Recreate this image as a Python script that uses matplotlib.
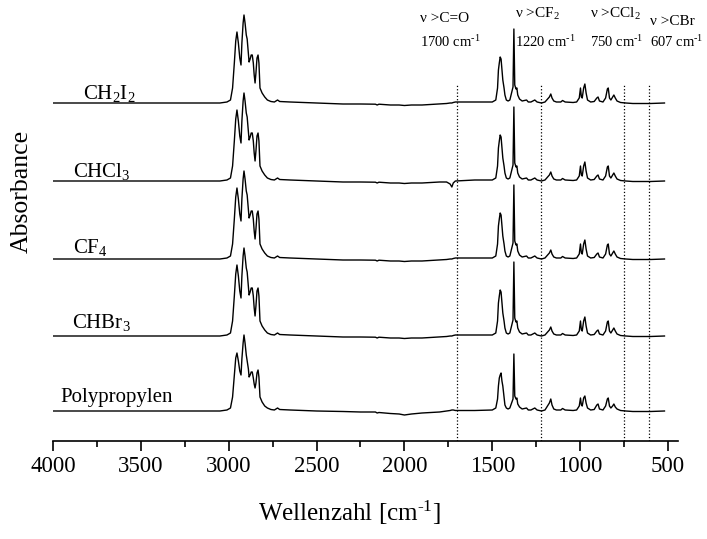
import numpy as np
import matplotlib
matplotlib.use('Agg')
import matplotlib.pyplot as plt
from matplotlib.ticker import MultipleLocator

plt.rcParams['font.family'] = ['Liberation Serif', 'DejaVu Serif']
plt.rcParams['mathtext.fontset'] = 'custom'
plt.rcParams['mathtext.rm'] = 'Liberation Serif'
plt.rcParams['mathtext.it'] = 'Liberation Serif:italic'
plt.rcParams['mathtext.bf'] = 'Liberation Serif:bold'

# Wellenzahl [cm-1]
wn = [4000, 3800, 3600, 3400, 3200, 3050, 3010, 2990, 2978, 2968,
      2960, 2953, 2945, 2937, 2930, 2925, 2918, 2913, 2907, 2900,
      2895, 2888, 2884, 2878, 2872, 2866, 2860, 2855, 2850, 2845,
      2839, 2833, 2828, 2822, 2810, 2795, 2780, 2760, 2740, 2722,
      2710, 2650, 2500, 2350, 2250, 2165, 2155, 2145, 2080, 2030,
      2000, 1960, 1900, 1800, 1760, 1740, 1730, 1722, 1710, 1600,
      1500, 1480, 1470, 1465, 1460, 1455, 1450, 1445, 1440, 1433,
      1428, 1420, 1410, 1400, 1390, 1382, 1377, 1372, 1365, 1360,
      1355, 1345, 1330, 1305, 1295, 1280, 1258, 1245, 1220, 1200,
      1175, 1167, 1160, 1150, 1135, 1110, 1100, 1085, 1040, 1020,
      1005, 998, 993, 988, 980, 973, 966, 958, 940, 920,
      905, 898, 890, 870, 855, 845, 840, 833, 825, 815,
      808, 800, 790, 770, 740, 700, 600, 520]

# behandelte Folien (CH2I2, CF4, CHBr3)
treated = [0, 0, 0, 0, 0, 0, .01, .03, .15, .40,
           .62, .71, .60, .45, .38, .60, .80, .88, .80, .68,
           .64, .50, .41, .44, .48, .48, .40, .28, .20, .30,
           .45, .48, .40, .15, .10, .06, .03, .015, .01, .03,
           .015, .01, 0, -.01, -.01, -.012, -.02, -.012, -.02, -.02,
           -.025, -.02, -.02, -.01, -.005, 0, 0, .005, .01, .01,
           .01, .03, .15, .33, .40, .46, .44, .33, .23, .15,
           .08, .03, .02, .03, .10, .16, .74, .18, .14, .15,
           .08, .04, .02, .03, .01, .01, .03, .01, 0, .01,
           .06, .09, .05, .02, .01, .01, .025, .01, .005, .01,
           .05, .15, .06, .05, .15, .19, .10, .03, .01, .015,
           .05, .06, .02, .01, .05, .14, .15, .05, .03, .06,
           .08, .05, .02, .005, 0, -.005, -.005, 0]

chcl3 = [0, 0, 0, 0, 0, 0, .01, .03, .15, .40,
         .62, .71, .60, .45, .38, .60, .80, .88, .80, .68,
         .64, .50, .41, .44, .48, .48, .40, .28, .20, .30,
         .45, .48, .40, .15, .10, .06, .03, .015, .01, .03,
         .015, .01, 0, -.01, -.01, -.012, -.02, -.012, -.02, -.02,
         -.025, -.02, -.02, -.01, -.01, -.03, -.06, -.02, 0, .01,
         .01, .03, .15, .33, .40, .46, .44, .33, .23, .15,
         .08, .03, .02, .03, .10, .16, .74, .18, .14, .15,
         .08, .04, .02, .03, .01, .01, .03, .01, 0, .01,
         .06, .09, .05, .02, .01, .01, .025, .01, .005, .01,
         .05, .15, .06, .05, .15, .19, .10, .03, .01, .015,
         .05, .06, .02, .01, .05, .14, .15, .05, .03, .06,
         .08, .05, .02, .005, 0, -.005, -.005, 0]

pp = [0, 0, 0, 0, 0, 0, .01, .03, .14, .36,
      .53, .58, .50, .40, .36, .52, .68, .76, .68, .56,
      .50, .42, .34, .36, .39, .39, .33, .27, .23, .28,
      .38, .41, .34, .14, .09, .05, .03, .015, .01, .03,
      .015, .01, 0, -.005, -.01, -.01, -.02, -.015, -.025, -.03,
      -.04, -.03, -.02, -.01, 0, .005, .01, .01, .005, .005,
      .01, .03, .12, .25, .33, .36, .38, .30, .25, .14,
      .06, .03, .02, .03, .08, .12, .57, .15, .12, .13,
      .07, .04, .02, .03, .01, .01, .03, .01, 0, .01,
      .08, .12, .06, .02, .01, .01, .025, .01, .005, .01,
      .05, .13, .06, .05, .13, .15, .08, .03, .01, .015,
      .06, .07, .02, .01, .05, .12, .13, .05, .03, .05,
      .07, .04, .02, .005, 0, -.005, -.005, 0]

samples = [r'CH$_{\rm 2}$I$_{\rm 2}$', r'CHCl$_{\rm 3}$', r'CF$_{\rm 4}$',
           r'CHBr$_{\rm 3}$', 'Polypropylen']
spectra = [treated, chcl3, treated, treated, pp]
offsets = [3.08, 2.30, 1.52, 0.75, 0.0]
label_x = [3829, 3886, 3886, 3892, 3960]
label_dy = [0.04, 0.04, 0.06, 0.08, 0.09]

bands = [1700, 1220, 750, 607]
band_names = [r'ν >C=O', r'ν >CF$_{\rm 2}$', r'ν >CCl$_{\rm 2}$', r'ν >CBr']
band_text_x = [1911, 1371, 944, 602]
band_text_y = [3.89, 3.93, 3.93, 3.86]

fig = plt.figure(figsize=(7.07, 5.39), dpi=100)
ax = fig.add_axes([53 / 707, 98 / 539, 625 / 707, 441 / 539])

for name, y, off, lx, dy in zip(samples, spectra, offsets, label_x, label_dy):
    ax.plot(wn, np.array(y) + off, color='black', lw=1.0)
    ax.text(lx, off + dy, name, fontsize=15, ha='left', va='baseline')

ax.set_xlim(4000, 443)
ax.set_ylim(-0.30, 4.11)
ax.vlines(bands, -0.30, 3.26, colors='black', linestyles=':', lw=0.9)

for b, nm, tx, ty in zip(bands, band_names, band_text_x, band_text_y):
    ax.text(tx, ty, nm, fontsize=11, ha='left', va='baseline')
    ax.text(tx, 3.64, str(b) + ' cm$^{‐1}$', fontsize=10.5, ha='left', va='baseline')

for s in ['left', 'top', 'right']:
    ax.spines[s].set_visible(False)
ax.spines['bottom'].set_linewidth(1.2)
ax.set_yticks([])
ax.xaxis.set_major_locator(MultipleLocator(500))
ax.xaxis.set_minor_locator(MultipleLocator(250))
ax.tick_params(axis='x', which='major', direction='out', length=7, width=1.2,
               labelsize=16.5, pad=4, labelfontfamily='Liberation Serif')
ax.tick_params(axis='x', which='minor', direction='out', length=4, width=1.2)

ax.set_xlabel('Wellenzahl [cm$^{‐1}$]', fontsize=18)
ax.xaxis.set_label_coords(0.474, -0.13)
ax.set_ylabel('Absorbance', fontsize=18.5, va='center')
ax.yaxis.set_label_coords(-0.05, 0.565)

fig.savefig('out.png', dpi=100)
